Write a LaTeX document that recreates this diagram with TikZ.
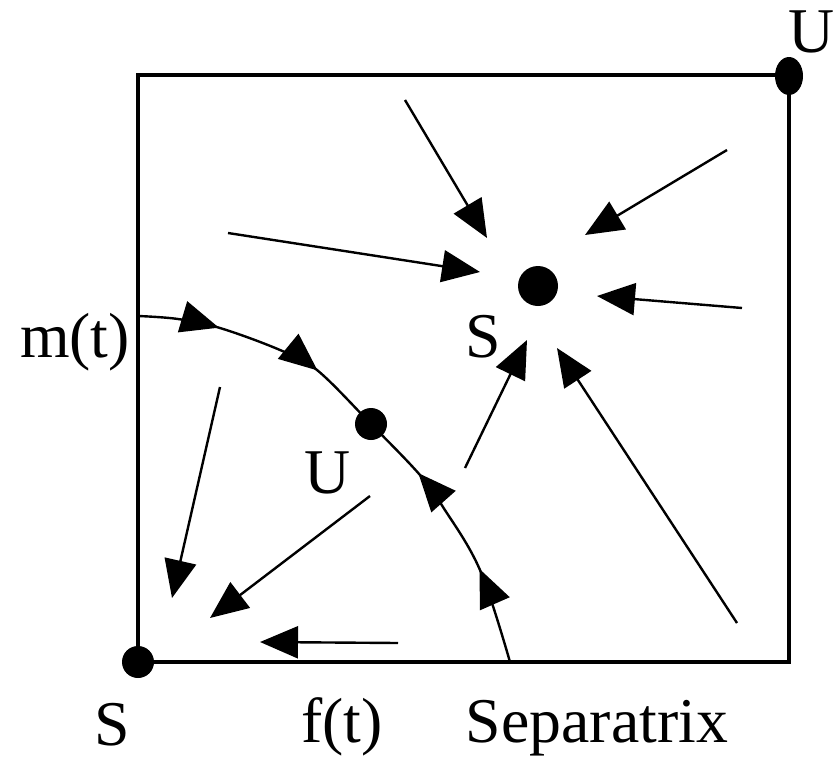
\documentclass[tikz,border=0pt]{standalone}
\usepackage{fontspec}
\setmainfont{Liberation Serif}
\usetikzlibrary{arrows.meta, decorations.markings, shapes.geometric}

\begin{document}
\begin{tikzpicture}[
  x=0.5bp, y=-0.5bp,
  frame/.style={draw=black, line width=2bp},
  flow/.style={line width=1.2bp, -{Triangle[length=19bp, width=16bp]}},
  fixpt/.style={circle, fill=black, inner sep=0pt, minimum size=#1},
  fixpt/.default=16bp,
  lbl/.style={font=\fontsize{32}{38}\selectfont, inner sep=0pt},
  sepmark/.style={postaction={decorate}, decoration={markings,
    mark=at position 41bp with {\arrow{Triangle[length=19bp, width=16bp]}},
    mark=at position 95bp with {\arrow{Triangle[length=19bp, width=16bp]}},
    mark=at position 167bp with {\arrowreversed{Triangle[length=19bp, width=16bp]}},
    mark=at position 224bp with {\arrowreversed{Triangle[length=19bp, width=16bp]}}}}
]
  \useasboundingbox (0,0) rectangle (836,757);

  % Frame and corner points
  \coordinate (bl) at (138,662);
  \coordinate (tr) at (789,75);
  \draw[frame] (bl) rectangle (tr);
  \node[fixpt] (cs) at (bl) {};
  \node[ellipse, fill=black, inner sep=0pt, minimum width=14bp, minimum height=19bp] (cu) at (789,76) {};

  % Interior fixed points
  \node[fixpt=20bp] (ms) at (538,286) {};
  \node[fixpt] (mu) at (371,424) {};

  % Separatrix
  \draw[line width=1.2bp, sepmark] plot[smooth, tension=0.6] coordinates
    {(138,316) (178,319) (220,328) (280,350) (317,370) (371,424) (420,475) (443,507) (480,570) (510,662)};

  % Flow towards the stable point
  \coordinate (a1s) at (405,100); \coordinate (a1e) at (487,238);
  \coordinate (a2s) at (727,150); \coordinate (a2e) at (585,235);
  \coordinate (a3s) at (228,233); \coordinate (a3e) at (480,272);
  \coordinate (a4s) at (742,308); \coordinate (a4e) at (597,296);
  \coordinate (a5s) at (465,468); \coordinate (a5e) at (527,340);
  \coordinate (a6s) at (737,623); \coordinate (a6e) at (557,348);
  \draw[flow] (a1s) -- (a1e);
  \draw[flow] (a2s) -- (a2e);
  \draw[flow] (a3s) -- (a3e);
  \draw[flow] (a4s) -- (a4e);
  \draw[flow] (a5s) -- (a5e);
  \draw[flow] (a6s) -- (a6e);

  % Flow towards the corner
  \coordinate (b1s) at (220,387); \coordinate (b1e) at (172,598);
  \coordinate (b2s) at (370,496); \coordinate (b2e) at (210,618);
  \coordinate (b3s) at (398,643); \coordinate (b3e) at (260,642);
  \draw[flow] (b1s) -- (b1e);
  \draw[flow] (b2s) -- (b2e);
  \draw[flow] (b3s) -- (b3e);

  % Labels
  \node[lbl, anchor=base east] (lcu) at (835,52) {U};
  \node[lbl, anchor=base] (lms) at (483,357) {S};
  \node[lbl, anchor=base] (lmu) at (328,493) {U};
  \node[lbl, anchor=base] (lm) at (75,357) {m(t)};
  \node[lbl, anchor=base] (lcs) at (112,745) {S};
  \node[lbl, anchor=base] (lf) at (342,742) {f(t)};
  \node[lbl, anchor=base] (lsep) at (597,742) {Separatrix};
\end{tikzpicture}
\end{document}
